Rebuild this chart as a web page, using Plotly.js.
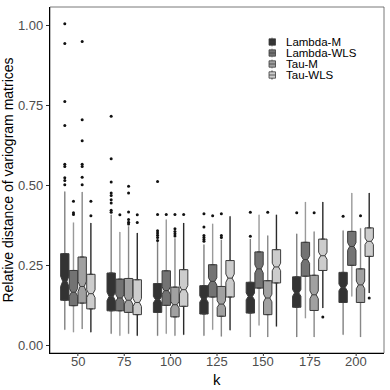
<!DOCTYPE html>
<html>
<head>
<meta charset="utf-8">
<script src="https://cdn.plot.ly/plotly-3.0.1.min.js"></script>
<style>
  html, body { margin: 0; padding: 0; background: #fff; }
  #chart { width: 390px; height: 390px; }
</style>
</head>
<body>
<div id="chart"></div>
<script>
// k values on the x axis
var kLabels = ['50', '75', '100', '125', '150', '175', '200'];
var groups = ['Lambda-M', 'Lambda-WLS', 'Tau-M', 'Tau-WLS'];

// box statistics, one row per group, one value per k
var lowerFence = [
    [0.050, 0.0375, 0.031, 0.031, 0.027, 0.027, 0.034],
    [0.042, 0.031, 0.0375, 0.050, 0.063, 0.086, 0.154],
    [0.052, 0.0375, 0.031, 0.029, 0.027, 0.027, 0.027],
    [0.042, 0.031, 0.034, 0.048, 0.060, 0.118, 0.165]
];
var q1 = [
    [0.142, 0.109, 0.104, 0.099, 0.102, 0.120, 0.135],
    [0.125, 0.109, 0.126, 0.152, 0.180, 0.217, 0.251],
    [0.133, 0.104, 0.090, 0.092, 0.097, 0.110, 0.135],
    [0.115, 0.097, 0.123, 0.152, 0.196, 0.235, 0.279]
];
var median = [
    [0.201, 0.154, 0.144, 0.146, 0.154, 0.165, 0.182],
    [0.167, 0.149, 0.172, 0.201, 0.240, 0.269, 0.310],
    [0.185, 0.142, 0.128, 0.130, 0.149, 0.159, 0.190],
    [0.1625, 0.135, 0.175, 0.211, 0.246, 0.281, 0.326]
];
var q3 = [
    [0.2875, 0.227, 0.194, 0.1875, 0.198, 0.215, 0.229],
    [0.235, 0.208, 0.234, 0.253, 0.293, 0.323, 0.357],
    [0.277, 0.210, 0.183, 0.185, 0.203, 0.220, 0.240],
    [0.223, 0.206, 0.2375, 0.266, 0.300, 0.333, 0.368]
];
var upperFence = [
    [0.482, 0.409, 0.326, 0.316, 0.333, 0.350, 0.360],
    [0.385, 0.355, 0.394, 0.381, 0.409, 0.449, 0.477],
    [0.480, 0.373, 0.336, 0.331, 0.344, 0.357, 0.367],
    [0.383, 0.352, 0.383, 0.404, 0.409, 0.449, 0.477]
];
var outliers = [
    [[1.006, 0.944, 0.763, 0.6875, 0.567, 0.560, 0.525, 0.516, 0.503],
     [0.717, 0.584, 0.511, 0.477, 0.469, 0.456, 0.446, 0.423, 0.417],
     [0.513, 0.410, 0.359, 0.352, 0.345, 0.338, 0.329],
     [0.4125, 0.371, 0.344, 0.338, 0.332, 0.326],
     [0.417, 0.342], [0.415], [0.404]],
    [[0.451, 0.415, 0.410], [0.409], [0.410], [0.406], [], [], []],
    [[0.950, 0.706, 0.640, 0.567, 0.560, 0.526, 0.503],
     [0.498, 0.477, 0.418, 0.394, 0.386, 0.380],
     [0.410, 0.365, 0.357, 0.350, 0.343],
     [0.4125, 0.344, 0.338],
     [0.417], [0.415], [0.406]],
    [[0.451, 0.406], [0.409, 0.385], [0.410], [], [], [0.090], [0.149]]
];
var N_SIMS = 200; // sample size behind each box, used for the notch

var fillColours = ['#333333', '#737373', '#a1a1a1', '#cccccc'];
var whiskerColours = ['#808080', '#9a9a9a', '#888888', '#2a2a2a'];
var OUTLINE = '#3c3c3c';
var DODGE = 0.1875;
var BOX_W = 0.18;
var X_RANGE = [0.4, 7.6];
var FONT = 'Liberation Sans, Arial, sans-serif';

var traces = [];
for (var g = 0; g < groups.length; g++) {
    var xs = kLabels.map(function (k, i) { return i + 1 + (g - 1.5) * DODGE; });
    var notch = q1[g].map(function (v, i) { return 1.58 * (q3[g][i] - v) / Math.sqrt(N_SIMS); });

    // whiskers (thin box so only the line shows)
    traces.push({
        type: 'box', x: xs,
        q1: q1[g], median: median[g], q3: q3[g],
        lowerfence: lowerFence[g], upperfence: upperFence[g],
        width: 0.005, fillcolor: whiskerColours[g],
        line: {color: whiskerColours[g], width: 1.4},
        boxpoints: false, hoverinfo: 'skip', showlegend: false
    });
    // notched box on top
    traces.push({
        type: 'box', x: xs,
        q1: q1[g], median: median[g], q3: q3[g],
        lowerfence: q1[g], upperfence: q3[g],
        notched: true, notchspan: notch, notchwidth: 0.25,
        width: BOX_W, fillcolor: fillColours[g],
        line: {color: OUTLINE, width: 1},
        boxpoints: false, hoverinfo: 'skip', showlegend: false
    });
    // outliers
    var ox = [], oy = [];
    for (var i = 0; i < kLabels.length; i++) {
        for (var j = 0; j < outliers[g][i].length; j++) {
            ox.push(xs[i]);
            oy.push(outliers[g][i][j]);
        }
    }
    traces.push({
        type: 'scatter', mode: 'markers', x: ox, y: oy,
        marker: {color: '#111', size: 3},
        hoverinfo: 'skip', showlegend: false
    });
}

var M = {l: 50, r: 6, t: 7, b: 37};
var PW = 390 - M.l - M.r, PH = 390 - M.t - M.b;
function px2x(px) { return (px - M.l) / PW; }
function py2y(py) { return (390 - M.b - py) / PH; }
function val2x(v) { return (v - X_RANGE[0]) / (X_RANGE[1] - X_RANGE[0]); }

var shapes = [{
    type: 'rect', xref: 'paper', yref: 'paper', x0: 0, x1: 1, y0: 0, y1: 1,
    line: {color: '#555', width: 0.8}, layer: 'below'
}];
var annotations = [];

// x ticks and labels by hand so the labels sit close to the axis, as in ggplot
kLabels.forEach(function (k, i) {
    shapes.push({
        type: 'line', xref: 'paper', yref: 'paper', x0: val2x(i + 1), x1: val2x(i + 1),
        y0: 0, y1: -3 / PH, line: {color: '#333', width: 1}
    });
    annotations.push({
        xref: 'paper', yref: 'paper', x: val2x(i + 1), y: py2y(362),
        xanchor: 'center', yanchor: 'middle', showarrow: false, borderpad: 0,
        text: k, font: {family: FONT, size: 13, color: '#4d4d4d'}
    });
});
annotations.push({
    xref: 'paper', yref: 'paper', x: 0.5, y: py2y(379.5),
    xanchor: 'center', yanchor: 'middle', showarrow: false, borderpad: 0,
    text: 'k', font: {family: FONT, size: 15, color: '#000'}
});

// legend: small box glyph + label per group
for (var g = 0; g < groups.length; g++) {
    var cy = 42 + g * 11;
    shapes.push({
        type: 'line', xref: 'paper', yref: 'paper',
        x0: px2x(272), x1: px2x(272), y0: py2y(cy - 4.5), y1: py2y(cy + 4.5),
        line: {color: whiskerColours[g], width: 1}
    });
    shapes.push({
        type: 'rect', xref: 'paper', yref: 'paper',
        x0: px2x(269), x1: px2x(275.5), y0: py2y(cy - 3.2), y1: py2y(cy + 3.2),
        fillcolor: fillColours[g], line: {color: OUTLINE, width: 0.8}
    });
    shapes.push({
        type: 'line', xref: 'paper', yref: 'paper',
        x0: px2x(269), x1: px2x(275.5), y0: py2y(cy), y1: py2y(cy),
        line: {color: OUTLINE, width: 0.8}
    });
    annotations.push({
        xref: 'paper', yref: 'paper', x: px2x(285), y: py2y(cy),
        xanchor: 'left', yanchor: 'middle', showarrow: false, borderpad: 0,
        text: groups[g], font: {family: FONT, size: 11.5, color: '#000'}
    });
}

var layout = {
    width: 390, height: 390,
    margin: M,
    paper_bgcolor: '#fff', plot_bgcolor: '#fff',
    showlegend: false,
    boxmode: 'overlay',
    font: {family: FONT, size: 13, color: '#4d4d4d'},
    xaxis: {
        range: X_RANGE,
        showticklabels: false, ticks: '',
        showgrid: false, zeroline: false,
        showline: true, linecolor: '#000', linewidth: 1.2
    },
    yaxis: {
        range: [-0.0228, 1.058],
        tickvals: [0, 0.25, 0.5, 0.75, 1],
        tickformat: '.2f',
        ticks: 'outside', ticklen: 3, tickcolor: '#333', tickwidth: 1,
        showgrid: false, zeroline: false,
        showline: true, linecolor: '#000', linewidth: 1.2,
        tickfont: {family: FONT, size: 13, color: '#4d4d4d'},
        title: {text: 'Relative distance of variogram matrices', font: {family: FONT, size: 14, color: '#000'}, standoff: 4}
    },
    shapes: shapes,
    annotations: annotations
};

Plotly.newPlot('chart', traces, layout, {staticPlot: true, displayModeBar: false});
</script>
</body>
</html>
